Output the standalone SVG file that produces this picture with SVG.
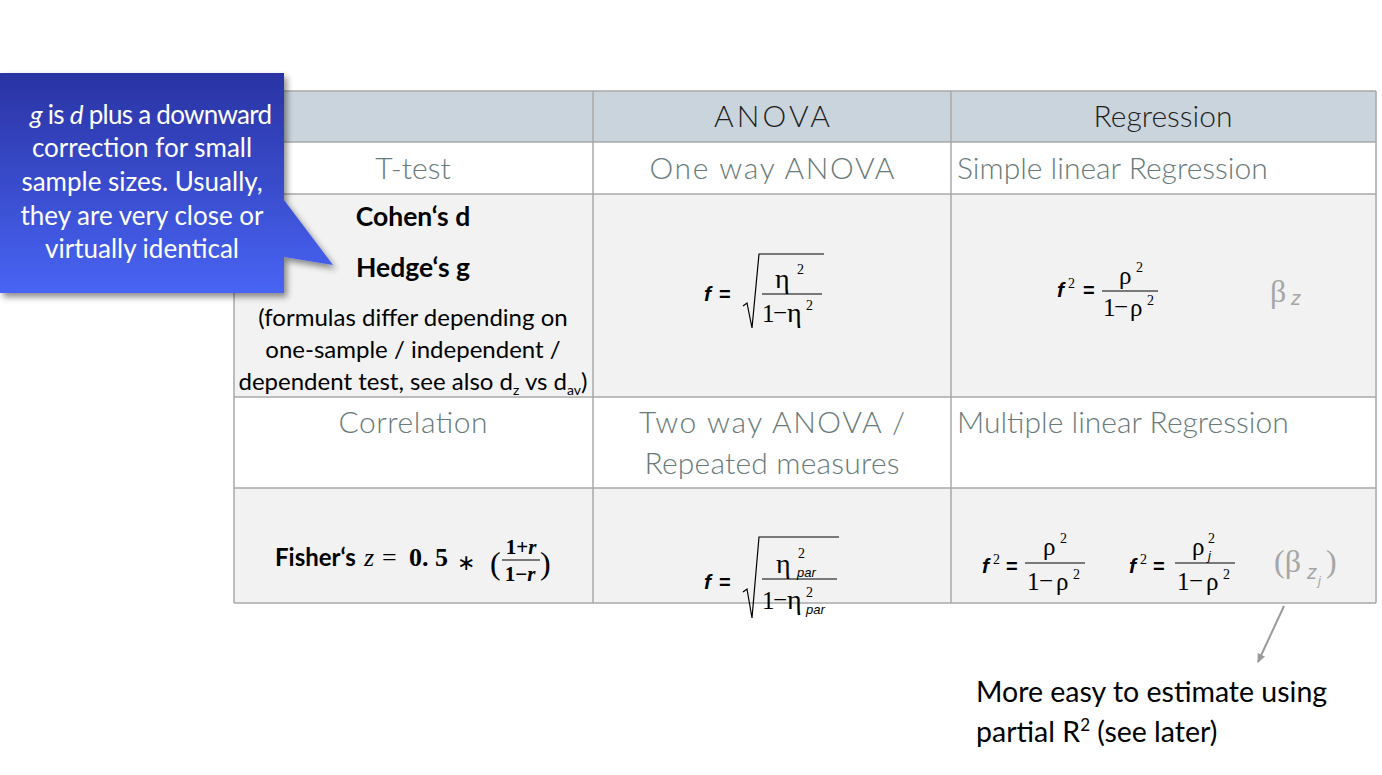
<svg xmlns="http://www.w3.org/2000/svg" width="1382" height="775" viewBox="0 0 1382 775">
<style>
.hd{font-family:Lato,"Liberation Sans",sans-serif;font-weight:300;font-size:30px;fill:#1e1e1e}
.lb{font-family:Lato,"Liberation Sans",sans-serif;font-weight:300;font-size:30px;fill:#687a7a}
.cb{font-family:Lato,"Liberation Sans",sans-serif;font-size:24px;fill:#000}
.bd{font-weight:bold;font-size:26.5px}
.co{font-family:Lato,"Liberation Sans",sans-serif;font-size:26px;fill:#fff}
.nt{font-family:Lato,"Liberation Sans",sans-serif;font-size:28.5px;fill:#000}
.fi{font-family:"Liberation Sans",Arial,sans-serif;font-style:italic;font-weight:bold;font-size:21px;fill:#000}
.eq{font-family:"Liberation Sans",Arial,sans-serif;font-weight:bold;font-size:20px;fill:#000}
.sr{font-family:"Liberation Serif","Times New Roman",serif;font-size:25px;fill:#000}
.et{font-family:"Liberation Serif","Times New Roman",serif;font-size:28px;fill:#000}
.sp{font-family:"Liberation Serif","Times New Roman",serif;font-size:14px;fill:#000}
.si{font-family:"Liberation Sans",Arial,sans-serif;font-style:italic;font-size:13px;fill:#000}
.gb{font-family:"Liberation Serif","Times New Roman",serif;font-size:32px;fill:#a6a6a6}
.gz{font-family:"Liberation Sans",Arial,sans-serif;font-style:italic;font-size:20px;fill:#a6a6a6}
.mb{font-family:"Liberation Serif","Times New Roman",serif;font-weight:bold;font-size:26px;fill:#000}
.grid line{stroke:#a9a9a9;stroke-width:1.5}
.fb{stroke:#000;stroke-width:1.2;fill:none}
</style>
<defs>
<linearGradient id="blue" x1="0" y1="0" x2="0" y2="1">
<stop offset="0" stop-color="#2a33a3"/>
<stop offset="1" stop-color="#4864f4"/>
</linearGradient>
<filter id="sh" x="-10%" y="-10%" width="130%" height="130%">
<feDropShadow dx="3" dy="4" stdDeviation="3" flood-color="#000" flood-opacity="0.45"/>
</filter>
<marker id="ah" markerWidth="10" markerHeight="10" refX="8" refY="5" orient="auto" markerUnits="userSpaceOnUse">
<path d="M0,1 L9,5 L0,9 z" fill="#9a9a9a"/>
</marker>
</defs>
<rect width="1382" height="775" fill="#fff"/>

<g id="table">
<rect x="234" y="91" width="1142" height="51" fill="#cad4dc"/>
<rect x="234" y="142" width="1142" height="52" fill="#fff"/>
<rect x="234" y="194" width="1142" height="203" fill="#f2f2f2"/>
<rect x="234" y="397" width="1142" height="91" fill="#fff"/>
<rect x="234" y="488" width="1142" height="115" fill="#f2f2f2"/>
<g class="grid">
<line x1="234" y1="91" x2="1376" y2="91"/>
<line x1="234" y1="142" x2="1376" y2="142"/>
<line x1="234" y1="194" x2="1376" y2="194"/>
<line x1="234" y1="397" x2="1376" y2="397"/>
<line x1="234" y1="488" x2="1376" y2="488"/>
<line x1="234" y1="603" x2="1376" y2="603"/>
<line x1="234" y1="91" x2="234" y2="603"/>
<line x1="593" y1="91" x2="593" y2="603"/>
<line x1="951" y1="91" x2="951" y2="603"/>
<line x1="1376" y1="91" x2="1376" y2="603"/>
</g>
</g>

<g id="header-anova"><text class="hd" x="772" y="127" text-anchor="middle" textLength="116">ANOVA</text></g>
<g id="header-regression"><text class="hd" x="1163" y="127" text-anchor="middle">Regression</text></g>

<g id="ttest"><text class="lb" x="413" y="179" text-anchor="middle">T-test</text></g>
<g id="oneway"><text class="lb" x="772" y="179" text-anchor="middle" textLength="245">One way ANOVA</text></g>
<g id="simple-reg"><text class="lb" x="957" y="179">Simple linear Regression</text></g>

<g id="ttest-effect">
<text class="cb bd" x="413" y="226" text-anchor="middle">Cohen‘s d</text>
<text class="cb bd" x="413" y="277" text-anchor="middle">Hedge‘s g</text>
<text class="cb" x="413" y="326" text-anchor="middle">(formulas differ depending on</text>
<text class="cb" x="413" y="358" text-anchor="middle">one-sample / independent /</text>
<text class="cb" x="413" y="390" text-anchor="middle">dependent test, see also d<tspan style="font-size:14px" dy="5">z</tspan><tspan dy="-5"> vs d</tspan><tspan style="font-size:14px" dy="5">av</tspan><tspan dy="-5">)</tspan></text>
</g>

<g id="oneway-effect">
<text class="fi" x="704" y="301">f</text>
<text class="eq" x="719" y="301">=</text>
<path class="fb" d="M743,306 L747,303 L752,328 L759,254 L824,254"/>
<text class="et" x="775" y="288">η</text>
<text class="sp" x="797" y="274">2</text>
<line class="fb" x1="762" y1="294" x2="822" y2="294"/>
<text class="sr" x="762" y="322">1</text>
<text class="sr" x="773" y="321">−</text>
<text class="et" x="787" y="322">η</text>
<text class="sp" x="806" y="310">2</text>
</g>

<g id="simple-reg-effect">
<text class="fi" x="1057" y="297">f</text>
<text class="sp" x="1068" y="288">2</text>
<text class="eq" x="1083" y="297">=</text>
<text class="sr" x="1119" y="284">ρ</text>
<text class="sp" x="1136" y="272">2</text>
<line class="fb" x1="1102" y1="291" x2="1158" y2="291"/>
<text class="sr" x="1103" y="316">1</text>
<text class="sr" x="1114" y="315">−</text>
<text class="sr" x="1130" y="316">ρ</text>
<text class="sp" x="1147" y="305">2</text>
<text class="gb" x="1270" y="302">β</text>
<text class="gz" x="1291" y="305">z</text>
</g>

<g id="correlation"><text class="lb" x="413" y="433" text-anchor="middle" textLength="149">Correlation</text></g>
<g id="twoway">
<text class="lb" x="772" y="433" text-anchor="middle" textLength="266">Two way ANOVA /</text>
<text class="lb" x="772" y="474" text-anchor="middle" textLength="255">Repeated measures</text>
</g>
<g id="multiple-reg"><text class="lb" x="957" y="433">Multiple linear Regression</text></g>

<g id="correlation-effect">
<text class="cb bd" x="275" y="566" style="font-size:24px">Fisher‘s</text>
<text class="sr" x="364" y="566" style="font-style:italic;font-size:26px">z</text>
<text class="sr" x="382" y="566" style="font-size:26px">=</text>
<text class="mb" x="409" y="566">0. 5</text>
<text class="sp" x="457" y="570" style="font-size:22px">∗</text>
<text class="sr" x="490" y="574" style="font-size:32px">(</text>
<text class="mb" x="521" y="554" style="font-size:21px" text-anchor="middle">1+<tspan font-style="italic">r</tspan></text>
<line stroke="#000" stroke-width="1" x1="502" y1="560" x2="540" y2="560"/>
<text class="mb" x="520" y="581" style="font-size:21px" text-anchor="middle">1−<tspan font-style="italic">r</tspan></text>
<text class="sr" x="540" y="574" style="font-size:32px">)</text>
</g>

<g id="twoway-effect">
<text class="fi" x="704" y="589">f</text>
<text class="eq" x="719" y="589">=</text>
<path class="fb" d="M743,592 L747,589 L752,618 L759,537 L839,537"/>
<text class="et" x="776" y="573">η</text>
<text class="sp" x="798" y="558">2</text>
<text class="si" x="797" y="577">par</text>
<line class="fb" x1="762" y1="579" x2="837" y2="579"/>
<text class="sr" x="762" y="609">1</text>
<text class="sr" x="773" y="608">−</text>
<text class="et" x="787" y="609">η</text>
<text class="sp" x="806" y="597">2</text>
<text class="si" x="806" y="614">par</text>
</g>

<g id="multiple-reg-effect">
<text class="fi" x="982" y="573">f</text>
<text class="sp" x="993" y="564">2</text>
<text class="eq" x="1006" y="573">=</text>
<text class="sr" x="1043" y="555">ρ</text>
<text class="sp" x="1060" y="543">2</text>
<line class="fb" x1="1025" y1="563" x2="1085" y2="563"/>
<text class="sr" x="1027" y="590">1</text>
<text class="sr" x="1039" y="589">−</text>
<text class="sr" x="1056" y="590">ρ</text>
<text class="sp" x="1073" y="579">2</text>

<text class="fi" x="1129" y="573">f</text>
<text class="sp" x="1140" y="564">2</text>
<text class="eq" x="1153" y="573">=</text>
<text class="sr" x="1192" y="555">ρ</text>
<text class="sp" x="1208" y="543">2</text>
<text class="si" x="1208" y="560">j</text>
<line class="fb" x1="1175" y1="563" x2="1235" y2="563"/>
<text class="sr" x="1177" y="590">1</text>
<text class="sr" x="1189" y="589">−</text>
<text class="sr" x="1206" y="590">ρ</text>
<text class="sp" x="1223" y="579">2</text>

<text class="gb" x="1274" y="572">(β</text>
<text class="gz" x="1307" y="579">z</text>
<text class="gz" x="1318" y="585" style="font-size:13px">j</text>
<text class="gb" x="1326" y="572">)</text>
</g>

<g id="connectors">
<line x1="1284" y1="606" x2="1258" y2="662" stroke="#9a9a9a" stroke-width="2" marker-end="url(#ah)"/>
</g>

<g id="note">
<text class="nt" x="976" y="702">More easy to estimate using</text>
<text class="nt" x="976" y="742">partial R<tspan style="font-size:17px" dy="-11">2</tspan><tspan dy="11"> (see later)</tspan></text>
</g>

<g id="callout">
<path d="M0,73 L284,73 L284,200 L333,265 L284,257 L284,293 L0,293 z" fill="url(#blue)" filter="url(#sh)"/>
<text class="co" x="151" y="124" text-anchor="middle" textLength="242"><tspan font-style="italic">g</tspan> is <tspan font-style="italic">d</tspan> plus a downward</text>
<text class="co" x="142" y="157" text-anchor="middle">correction for small</text>
<text class="co" x="142" y="191" text-anchor="middle">sample sizes. Usually,</text>
<text class="co" x="142" y="225" text-anchor="middle">they are very close or</text>
<text class="co" x="142" y="258" text-anchor="middle">virtually identical</text>
</g>
</svg>
